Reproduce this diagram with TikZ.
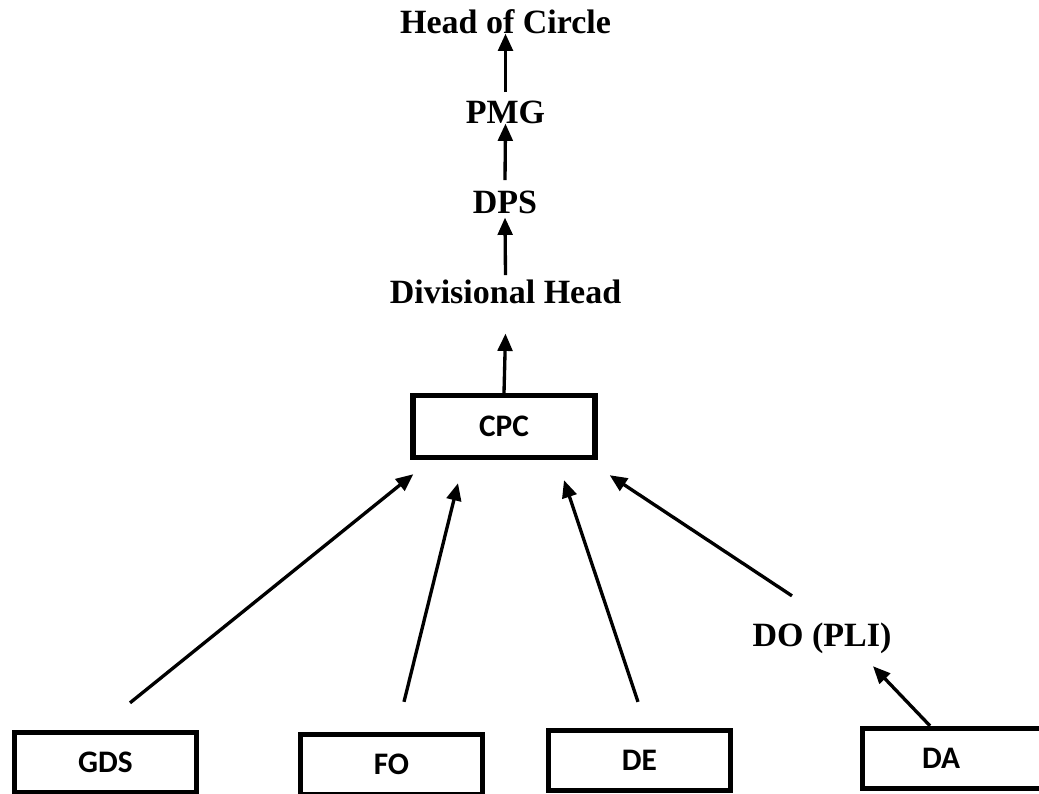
\documentclass[tikz,border=0pt]{standalone}
\usepackage{fontspec}
\setmainfont{Liberation Serif}
\newfontfamily\boxfont{Carlito}
\usetikzlibrary{arrows.meta,calc}

\tikzset{
  lbl/.style={inner sep=0pt,anchor=base,font=\fontsize{25.5pt}{30pt}\selectfont\bfseries},
  box/.style={draw,line width=4pt,minimum width=136.5pt,minimum height=45pt,inner sep=0pt,
    font=\boxfont\fontsize{23.5pt}{28pt}\selectfont\bfseries},
  arr/.style={-{Triangle[length=13pt,width=11pt]},line width=2.5pt},
}

\begin{document}
\begin{tikzpicture}[x=0.75pt,y=-0.75pt]
  \useasboundingbox (0,0) rectangle (1039,793);
  % chain of heads
  \node[lbl] (hoc) at (505.5,33) {Head of Circle};
  \node[lbl] (pmg) at (505.5,123) {PMG};
  \node[lbl] (dps) at (505,213) {DPS};
  \node[lbl] (divh) at (505.5,303) {Divisional Head};
  \node[lbl] (dopli) at (822,646.7) {DO (PLI)};
  % boxes
  \node[box,minimum height=46.5pt] (cpc) at (504,426.5) {CPC};
  \node[box] (gds) at (105.5,762.5) {GDS};
  \node[box] (fo) at (391.5,764.5) {FO};
  \node[box] (de) at (639.5,760.5) {DE};
  \node[box] (da) at (953.5,758.5) {DA\kern18.75pt};
  % upward chain
  \draw[arr] ($(pmg.north)+(0,-8)$) -- (hoc.south);
  \draw[arr] ($(dps.north)+(0,-10)$) -- (pmg.south);
  \draw[arr] ($(divh.north)+(0,-4)$) -- ($(dps.south)+(0,4)$);
  \draw[arr] (cpc.north) -- ($(divh.south)+(0,30)$);
  % into CPC
  \draw[arr] ($(gds.north)+(24.5,-27)$) -- ($(cpc.south west)+(3,14)$);
  \draw[arr] ($(fo.north)+(12.5,-30)$) -- ($(cpc.south)+(-46,23)$);
  \draw[arr] ($(de.north)+(-1.5,-26)$) -- ($(cpc.south)+(60,20)$);
  \draw[arr] ($(dopli.north)+(-30,-27)$) -- ($(cpc.south east)+(12,15)$);
  \draw[arr] ($(da.north)+(-23.5,0)$) -- ($(dopli.south)+(51,12)$);
\end{tikzpicture}
\end{document}
